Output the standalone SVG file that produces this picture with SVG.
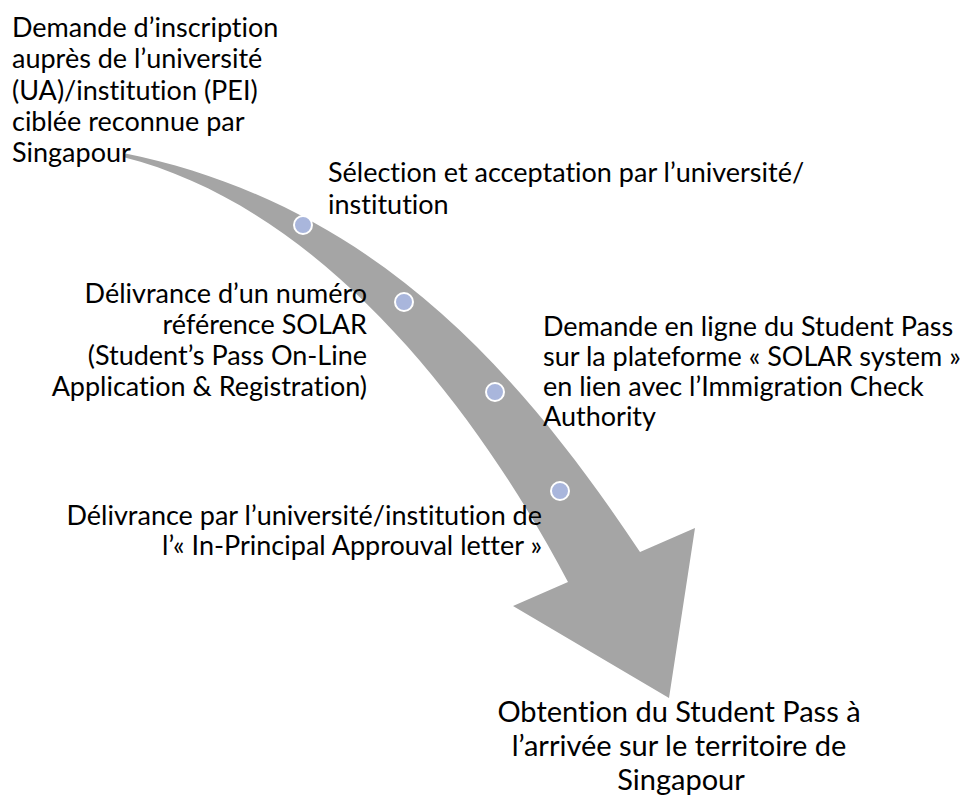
<svg xmlns="http://www.w3.org/2000/svg" width="970" height="796" viewBox="0 0 970 796">
<style>
.t{font-family:Lato,"Open Sans","Liberation Sans",sans-serif;font-size:27px;fill:#000;font-variant-ligatures:none}
.b{font-size:29px}
.e{text-anchor:end}
.m{text-anchor:middle}
.dot{fill:#A9B6DC;stroke:#fff;stroke-width:2}
</style>
<rect width="970" height="796" fill="#fff"/>
<g id="connectors">
<path d="M123,153 C373,203 520,372 640,552 L695,528 L669,698 L513,606 L568,582 C478,411 323,207 123,157 Z" fill="#A5A5A5"/>
</g>
<g id="step1">
<text class="t" x="12" y="37">Demande d’inscription</text>
<text class="t" x="12" y="68">auprès de l’université</text>
<text class="t" x="12" y="100">(UA)/institution (PEI)</text>
<text class="t" x="12" y="131">ciblée reconnue par</text>
<text class="t" x="12" y="162">Singapour</text>
</g>
<g id="step2">
<circle class="dot" cx="303" cy="225" r="9"/>
<text class="t" x="328" y="182">Sélection et acceptation par l’université/</text>
<text class="t" x="328" y="214">institution</text>
</g>
<g id="step3">
<circle class="dot" cx="404" cy="302" r="9"/>
<text class="t e" x="367" y="303">Délivrance d’un numéro</text>
<text class="t e" x="367" y="334">référence SOLAR</text>
<text class="t e" x="367" y="365">(Student’s Pass On-Line</text>
<text class="t e" x="367" y="396">Application &amp; Registration)</text>
</g>
<g id="step4">
<circle class="dot" cx="495" cy="392" r="9"/>
<text class="t" x="543" y="336">Demande en ligne du Student Pass</text>
<text class="t" x="543" y="366">sur la plateforme « SOLAR system »</text>
<text class="t" x="543" y="396">en lien avec l’Immigration Check</text>
<text class="t" x="543" y="426">Authority</text>
</g>
<g id="step5">
<circle class="dot" cx="560" cy="491" r="9"/>
<text class="t e" x="542" y="525">Délivrance par l’université/institution de</text>
<text class="t e" x="542" y="555">l’« In-Principal Approuval letter »</text>
</g>
<g id="step6">
<text class="t b m" x="679" y="722">Obtention du Student Pass à</text>
<text class="t b m" x="679" y="756">l’arrivée sur le territoire de</text>
<text class="t b m" x="681" y="790">Singapour</text>
</g>
</svg>
